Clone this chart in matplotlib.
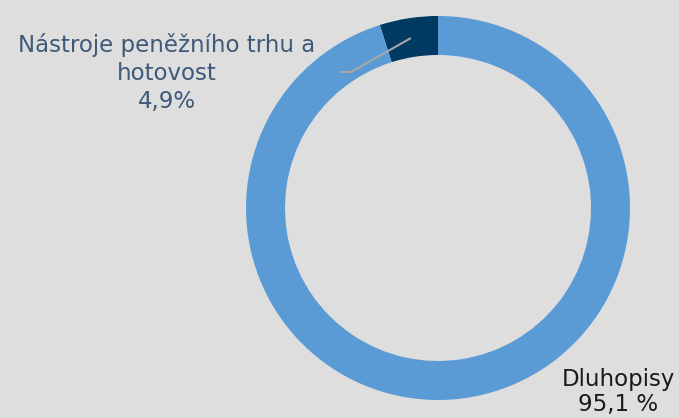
import matplotlib
matplotlib.use("Agg")
import matplotlib.pyplot as plt

categories = ["Nástroje peněžního trhu a\nhotovost", "Dluhopisy"]
values = [4.9, 95.1]
value_labels = ["4,9%", "95,1 %"]
colors = ["#003a63", "#5b9bd5"]

W, H = 679, 418
fig = plt.figure(figsize=(W / 100, H / 100), dpi=100)
bg = "#dedede"
fig.patch.set_facecolor(bg)
ax = fig.add_axes([0, 0, 1, 1])
ax.set_facecolor(bg)

cx, cy, r = 438, H - 208, 192
ax.pie(values, colors=colors, startangle=90, counterclock=True,
       radius=r, center=(cx, cy), frame=True,
       wedgeprops=dict(width=39, edgecolor="none"))
ax.set_xlim(0, W)
ax.set_ylim(0, H)
ax.set_aspect("equal")
ax.axis("off")

# leader line
ax.plot([411, 351, 340], [H - 38, H - 72, H - 72], color="#a6a6a6", lw=1.5,
        solid_capstyle="butt")

font = "DejaVu Sans"
ax.text(167, H - 73, categories[0] + "\n" + value_labels[0], ha="center", va="center",
        fontsize=16.5, color="#3d5a78", family=font, linespacing=1.3)
ax.text(618, H - 392, categories[1] + "\n" + value_labels[1], ha="center", va="center",
        fontsize=16.5, color="#1a1a1a", family=font, linespacing=1.1)

fig.savefig("out.png", dpi=100, facecolor=bg)
